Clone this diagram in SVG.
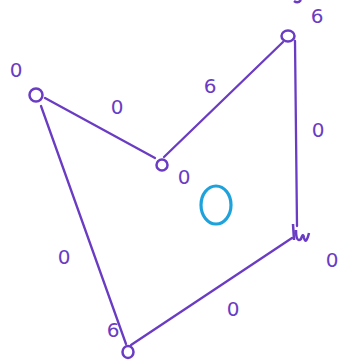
<svg xmlns="http://www.w3.org/2000/svg" width="339" height="360" viewBox="0 0 339 360">
<style>
.v{fill:none;stroke:#6a3cc4;stroke-width:2.5}
.e{fill:none;stroke:#6a3cc4;stroke-width:2.3;stroke-linecap:round}
.t{font-family:"DejaVu Sans",sans-serif;font-size:20px;fill:#6a3cc4;text-anchor:middle}
</style>
<rect width="339" height="360" fill="#ffffff"/>
<g id="connectors">
<line class="e" x1="45" y1="98" x2="155" y2="158"/>
<line class="e" x1="164" y1="157" x2="283" y2="42"/>
<line class="e" x1="295" y1="41" x2="297" y2="226"/>
<line class="e" x1="292" y1="238" x2="131" y2="345"/>
<line class="e" x1="126" y1="344" x2="41" y2="106"/>
</g>
<g id="nodeA"><ellipse class="v" cx="36" cy="95" rx="6.5" ry="6.5"/></g>
<g id="nodeB"><ellipse class="v" cx="162" cy="165" rx="5.5" ry="5.5"/></g>
<g id="nodeC"><ellipse class="v" cx="288" cy="36" rx="6.5" ry="5.5"/></g>
<g id="nodeD"><path class="v" d="M293 224 L294 240 M296 230 Q296 243 301 239 Q303 232 304 238 Q306 245 309 233"/></g>
<g id="nodeE"><ellipse class="v" cx="128" cy="352" rx="5.5" ry="6"/></g>
<g id="hub"><ellipse cx="216" cy="205" rx="15" ry="19" fill="none" stroke="#1ea2dc" stroke-width="3.2"/></g>
<g id="labels">
<path class="v" d="M294 1 Q298 4 301 0"/>
<text class="t" x="16" y="77" font-size="24">0</text>
<text class="t" x="117" y="114">0</text>
<text class="t" x="184" y="184">0</text>
<text class="t" x="210" y="93">6</text>
<text class="t" x="317" y="23">6</text>
<text class="t" x="318" y="137">0</text>
<text class="t" x="332" y="267">0</text>
<text class="t" x="64" y="264">0</text>
<text class="t" x="233" y="316">0</text>
<text class="t" x="113" y="337">6</text>
</g>
</svg>
